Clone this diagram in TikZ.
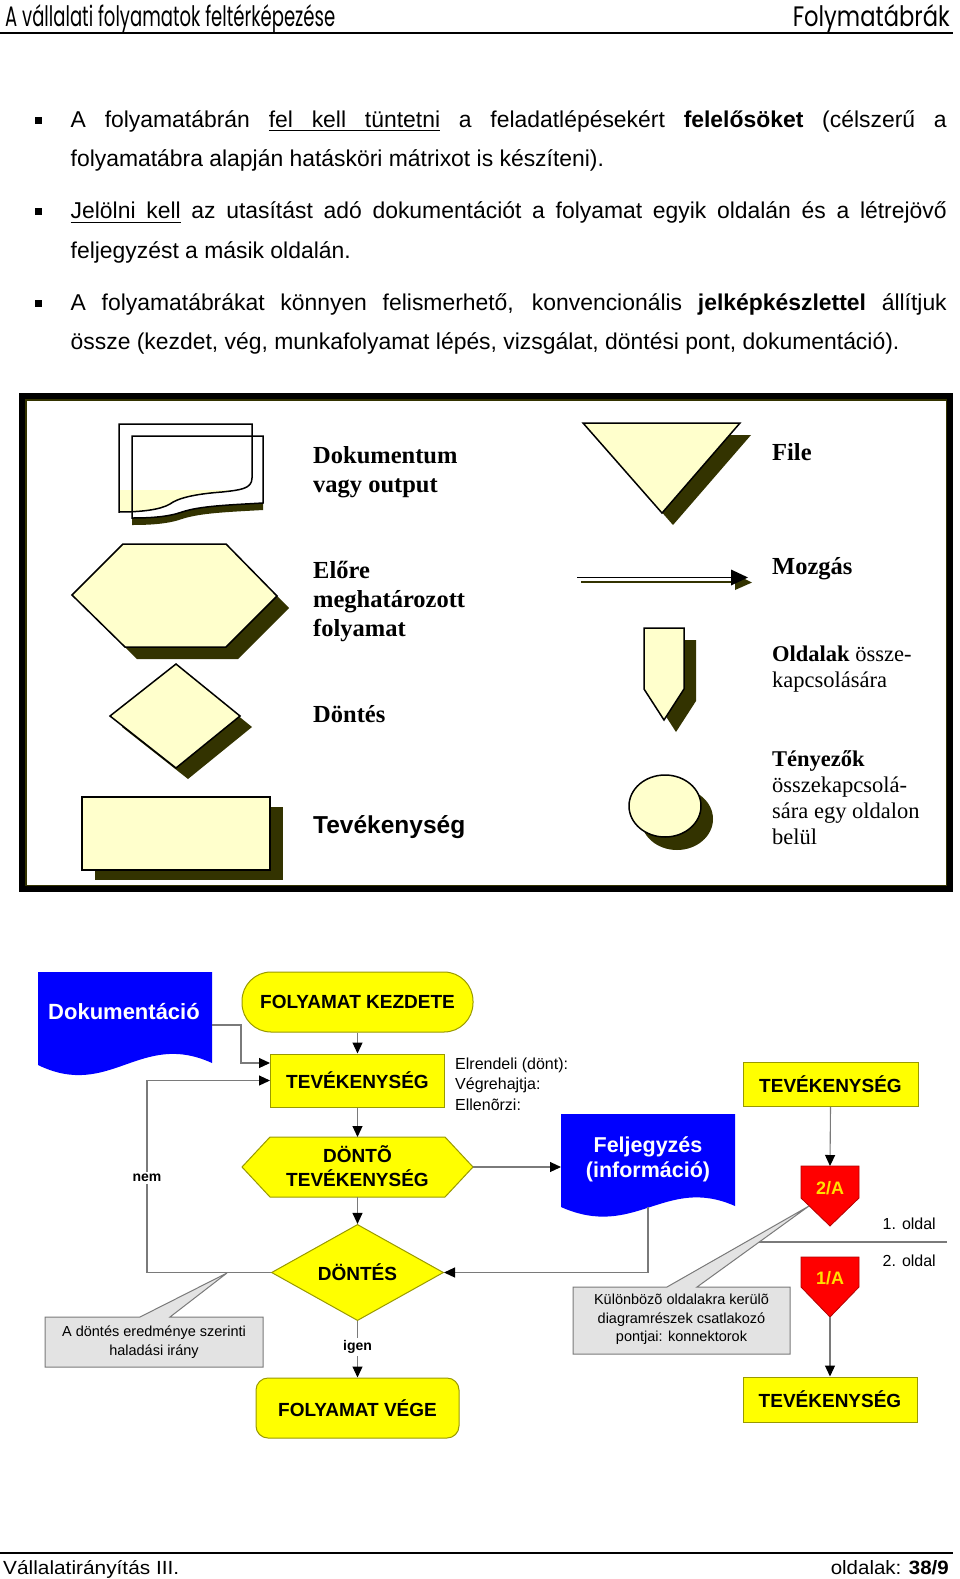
\documentclass[tikz,border=0pt]{standalone}
\usepackage{fontspec}
\usepackage{graphicx}
\setmainfont{Liberation Sans}
\newfontfamily\tnr{Liberation Serif}
\newfontfamily\geo{Poppins}
\usetikzlibrary{arrows.meta,shapes.geometric}
\definecolor{lyel}{HTML}{FFFFCC}
\definecolor{shadc}{HTML}{333300}
\definecolor{yel}{HTML}{FFFF00}
\definecolor{yline}{HTML}{999900}
\definecolor{dblue}{HTML}{0000FF}
\definecolor{cgray}{HTML}{E3E3E3}
\definecolor{lgray}{HTML}{7A7A7A}
\definecolor{cred}{HTML}{FF0000}
\definecolor{ctxt}{HTML}{FFE000}
\newcommand\myul[1]{\setbox0=\hbox{#1}\rlap{\vrule width\wd0 height -3pt depth 4.3pt}\box0\relax}
\newcommand\ulsp{\leaders\hrule height -3pt depth 4.3pt\hskip\fontdimen2\font plus\fontdimen3\font minus\fontdimen4\font\relax}
\begin{document}
\begin{tikzpicture}[x=1pt,y=-1pt,
 txt/.style={inner sep=0pt, anchor=base west},
 body/.style={txt, font=\fontsize{22.9}{27}\selectfont},
 legend/.style={txt, font=\tnr\bfseries\fontsize{24.5}{29}\selectfont},
 legendsm/.style={txt, font=\tnr\fontsize{22.5}{26}\selectfont},
 legshape/.style={fill=lyel, draw=black, line width=1.5pt, line join=miter},
 ybox/.style={rectangle, fill=yel, draw=yline, line width=1pt, inner sep=0pt, align=center, font=\bfseries\fontsize{19}{24}\selectfont},
 flow/.style={draw=lgray, line width=1.1pt, -{Triangle[length=11pt,width=10pt,color=black,fill=black]}},
 pline/.style={draw=lgray, line width=1.1pt},
 smalltxt/.style={inner sep=0pt, font=\fontsize{16}{20.5}\selectfont},
 callbox/.style={fill=cgray, draw=lgray, line width=1pt},
 ctext/.style={inner sep=0pt, align=center, font=\fontsize{14.5}{18.5}\selectfont},
 lbl/.style={fill=white, inner sep=2pt, font=\bfseries\fontsize{14}{16}\selectfont},
 redcon/.style={fill=cred, draw=red!70!black, line width=0.8pt},
 contxt/.style={inner sep=0pt, text=ctxt, font=\bfseries\fontsize{18}{20}\selectfont}
]
\useasboundingbox (0,0) rectangle (960,1579);
\fill[white] (0,0) rectangle (960,1579);

% ---------- header ----------
\node[anchor=base west, inner sep=0pt] (h1) at (5,27) {\resizebox{330pt}{22pt}{\geo A vállalati folyamatok feltérképezése}};
\node[anchor=base east, inner sep=0pt] (h2) at (950,27) {\resizebox{157pt}{22pt}{\geo Folymatábrák}};
\draw[line width=1.5pt] (0,33) -- (953,33);

% ---------- bullets ----------
\fill (35,116.5) rectangle (42,123.5);
\fill (35,208) rectangle (42,215);
\fill (35,299.5) rectangle (42,306.5);
\node[body] (b1) at (70.5,127) {\makebox[876pt][s]{A folyamatábrán \myul{fel}\ulsp\myul{kell}\ulsp\myul{tüntetni} a feladatlépésekért \textbf{felelősöket} (célszerű a}};
\node[body] (b2) at (70.5,166.5) {folyamatábra alapján hatásköri mátrixot is készíteni).};
\node[body] (b3) at (70.5,218.5) {\makebox[876pt][s]{\myul{Jelölni}\ulsp\myul{kell} az utasítást adó dokumentációt a folyamat egyik oldalán és a létrejövő}};
\node[body] (b4) at (70.5,258) {feljegyzést a másik oldalán.};
\node[body] (b5) at (70.5,310) {\makebox[876pt][s]{A folyamatábrákat könnyen felismerhető, konvencionális \textbf{jelképkészlettel} állítjuk}};
\node[body] (b6) at (70.5,349.5) {össze (kezdet, vég, munkafolyamat lépés, vizsgálat, döntési pont, dokumentáció).};

% ---------- legend frame ----------
\draw[line width=6pt] (22,396) rectangle (950,889);
\draw[shadc, line width=1.5pt] (25.75,399.75) rectangle (946.25,885.25);

% document symbol
\fill[shadc, shift={(0,7)}] (132,436) -- (263,436) -- (263,503) .. controls (228,505) and (200,506) .. (182,512) .. controls (168,517) and (150,518) .. (132,518) -- cycle;
\fill[white] (132,436) -- (263,436) -- (263,503) .. controls (228,505) and (200,506) .. (182,512) .. controls (168,517) and (150,518) .. (132,518) -- cycle;
\begin{scope}
\clip (119,424) -- (252,424) -- (252,478) .. controls (252,489) and (240,490) .. (222,492) .. controls (195,494) and (178,498) .. (170,504) .. controls (160,510) and (140,512) .. (119,512) -- cycle;
\fill[lyel] (100,490) rectangle (270,520);
\end{scope}
\draw[line width=1.5pt] (132,436) -- (263,436) -- (263,503) .. controls (228,505) and (200,506) .. (182,512) .. controls (168,517) and (150,518) .. (132,518) -- cycle;
\draw[line width=1.5pt] (119,424) -- (252,424) -- (252,478) .. controls (252,489) and (240,490) .. (222,492) .. controls (195,494) and (178,498) .. (170,504) .. controls (160,510) and (140,512) .. (119,512) -- cycle;

% hexagon
\fill[shadc, shift={(12,12)}] (72,595) -- (123,544) -- (226,544) -- (277,596) -- (226,647) -- (125,647) -- cycle;
\draw[legshape] (72,595) -- (123,544) -- (226,544) -- (277,596) -- (226,647) -- (125,647) -- cycle;

% diamond
\fill[shadc, shift={(12,11)}] (110,716) -- (176,664) -- (240,716) -- (176,768) -- cycle;
\draw[legshape] (110,716) -- (176,664) -- (240,716) -- (176,768) -- cycle;

% rectangle
\fill[shadc] (95,807) rectangle (283,880);
\draw[legshape] (82,797) rectangle (270,870);

% file triangle
\fill[shadc, shift={(11,12)}] (583,423) -- (740,423) -- (662,513) -- cycle;
\draw[legshape] (583,423) -- (740,423) -- (662,513) -- cycle;

% movement arrow
\draw[shadc, line width=1.5pt] (581,582) -- (739,582);
\fill[shadc] (735,574) -- (752,582.5) -- (735,590) -- cycle;
\draw[black, line width=1.5pt] (577,577.5) -- (735,577.5);
\fill[black] (731,569.5) -- (748,577.5) -- (731,585.5) -- cycle;

% off-page connector
\fill[shadc, shift={(12,12)}] (644,628) -- (684,628) -- (684,689) -- (664,720) -- (644,689) -- cycle;
\draw[legshape] (644,628) -- (684,628) -- (684,689) -- (664,720) -- (644,689) -- cycle;

% on-page connector
\fill[shadc] (677,819) ellipse [x radius=36pt, y radius=31pt];
\draw[legshape] (665,806) ellipse [x radius=36pt, y radius=31pt];

% legend texts
\node[legend] (l1a) at (313,463) {Dokumentum};
\node[legend] (l1b) at (313,492) {vagy output};
\node[legend] (l2) at (772,460) {File};
\node[legend] (l3a) at (313,578) {Előre};
\node[legend] (l3b) at (313,607) {meghatározott};
\node[legend] (l3c) at (313,636) {folyamat};
\node[legend] (l4) at (772,574) {Mozgás};
\node[legendsm] (l5a) at (772,661) {\textbf{Oldalak} össze-};
\node[legendsm] (l5b) at (772,687) {kapcsolására};
\node[legend] (l6) at (313,722) {Döntés};
\node[legendsm] (l7a) at (772,766) {\textbf{Tényezők}};
\node[legendsm] (l7b) at (772,792) {összekapcsolá-};
\node[legendsm] (l7c) at (772,818) {sára egy oldalon};
\node[legendsm] (l7d) at (772,844) {belül};
\node[txt, font=\bfseries\fontsize{24.5}{29}\selectfont] (l8) at (313,833) {Tevékenység};

% ---------- flowchart ----------
% documentation
\fill[dblue] (38,972) -- (212,972) -- (212,1063) .. controls (140,1030) and (110,1100) .. (38,1065) -- cycle;
\node[inner sep=0pt, text=white, font=\bfseries\fontsize{22}{26}\selectfont] (dok) at (124,1012) {Dokumentáció};
\coordinate (dokR) at (212,1025);
\coordinate (dk1) at (241,1025);
\coordinate (dk2) at (241,1063);
\coordinate (t1in) at (270,1063);

\node[ybox, rounded corners=29pt, minimum width=231pt, minimum height=60pt] (start) at (357.5,1002) {FOLYAMAT KEZDETE};
\node[ybox, minimum width=174pt, minimum height=53pt] (t1) at (357.5,1080.5) {TEVÉKENYSÉG};

% hexagon decision activity
\draw[fill=yel, draw=yline, line width=1pt] (242,1167) -- (270,1137) -- (445,1137) -- (473,1167) -- (445,1197) -- (270,1197) -- cycle;
\node[inner sep=0pt, align=center, font=\bfseries\fontsize{19}{24}\selectfont] (donto) at (357.5,1166) {DÖNTÕ\\TEVÉKENYSÉG};
\coordinate (hexN) at (357.5,1137);
\coordinate (hexS) at (357.5,1197);
\coordinate (hexE) at (473,1167);

\node[ybox, diamond, minimum width=172pt, minimum height=89pt] (dontes) at (357.5,1272.5) {DÖNTÉS};
\node[ybox, rounded corners=12pt, minimum width=203pt, minimum height=60pt] (vege) at (357.5,1408) {FOLYAMAT VÉGE};

% record document
\fill[dblue] (561,1114) -- (735,1114) -- (735,1206) .. controls (665,1175) and (635,1240) .. (561,1207) -- cycle;
\node[inner sep=0pt, align=center, text=white, font=\bfseries\fontsize{21.5}{25}\selectfont] (fel) at (648,1159) {Feljegyzés\\(információ)};
\coordinate (felW) at (561,1167);
\coordinate (felS) at (648,1207);
\coordinate (felC) at (648,1272.5);

% responsibility text
\node[smalltxt, anchor=base west] (r1) at (455,1069) {Elrendeli (dönt):};
\node[smalltxt, anchor=base west] (r2) at (455,1089.5) {Végrehajtja:};
\node[smalltxt, anchor=base west] (r3) at (455,1110) {Ellenõrzi:};

% right column
\node[ybox, minimum width=175pt, minimum height=44pt] (t2) at (830.5,1084) {TEVÉKENYSÉG};
\draw[redcon] (801,1166) -- (859,1166) -- (859,1198) -- (830,1226) -- (801,1198) -- cycle;
\node[contxt] (c2) at (830,1188) {2/A};
\coordinate (c2N) at (830,1166);

\draw[pline] (752,1242) -- (947,1242);
\node[smalltxt, anchor=base east] (p1) at (936,1229) {1. oldal};
\node[smalltxt, anchor=base east] (p2) at (936,1266) {2. oldal};

\draw[redcon] (801,1257) -- (859,1257) -- (859,1287) -- (830,1317) -- (801,1287) -- cycle;
\node[contxt] (c1) at (830,1278) {1/A};
\coordinate (c1S) at (830,1317);
\node[ybox, minimum width=174pt, minimum height=45pt] (t3) at (830,1399.5) {TEVÉKENYSÉG};

% connectors
\draw[flow] (start.south) -- (t1.north);
\draw[flow] (dokR) -- (dk1) -- (dk2) -- (t1in);
\coordinate (nemB) at (147,1272.5);
\coordinate (nemT) at (147,1080.5);
\draw[flow] (dontes.west) -- (nemB) -- (nemT) -- (t1.west);
\draw[flow] (t1.south) -- (hexN);
\draw[flow] (hexS) -- (dontes.north);
\draw[flow] (hexE) -- (felW);
\draw[flow] (felS) -- (felC) -- (dontes.east);
\draw[flow] (dontes.south) -- (vege.north);
\draw[flow] (t2.south) -- (c2N);
\draw[flow] (c1S) -- (t3.north);

\node[lbl] (nem) at (147,1178) {nem};
\node[lbl] (igen) at (357.5,1347) {igen};

% callouts
\draw[callbox] (45,1317) -- (140,1317) -- (227,1273) -- (170,1317) -- (263,1317) -- (263,1367) -- (45,1367) -- cycle;
\node[ctext] (co1) at (154,1342) {A döntés eredménye szerinti\\haladási irány};
\draw[callbox] (573,1287) -- (667,1287) -- (809,1206) -- (697,1287) -- (790,1287) -- (790,1354) -- (573,1354) -- cycle;
\node[ctext] (co2) at (681.5,1319.5) {Különbözõ oldalakra kerülõ\\diagramrészek csatlakozó\\pontjai: konnektorok};

% ---------- footer ----------
\draw[line width=1.5pt] (0,1553) -- (953,1553);
\node[anchor=base west, inner sep=0pt] (f1) at (3,1574) {\resizebox{176pt}{14pt}{Vállalatirányítás III.}};
\node[anchor=base east, inner sep=0pt] (f2) at (949,1574) {\resizebox{118pt}{14pt}{oldalak: \textbf{38/9}}};
\end{tikzpicture}
\end{document}
